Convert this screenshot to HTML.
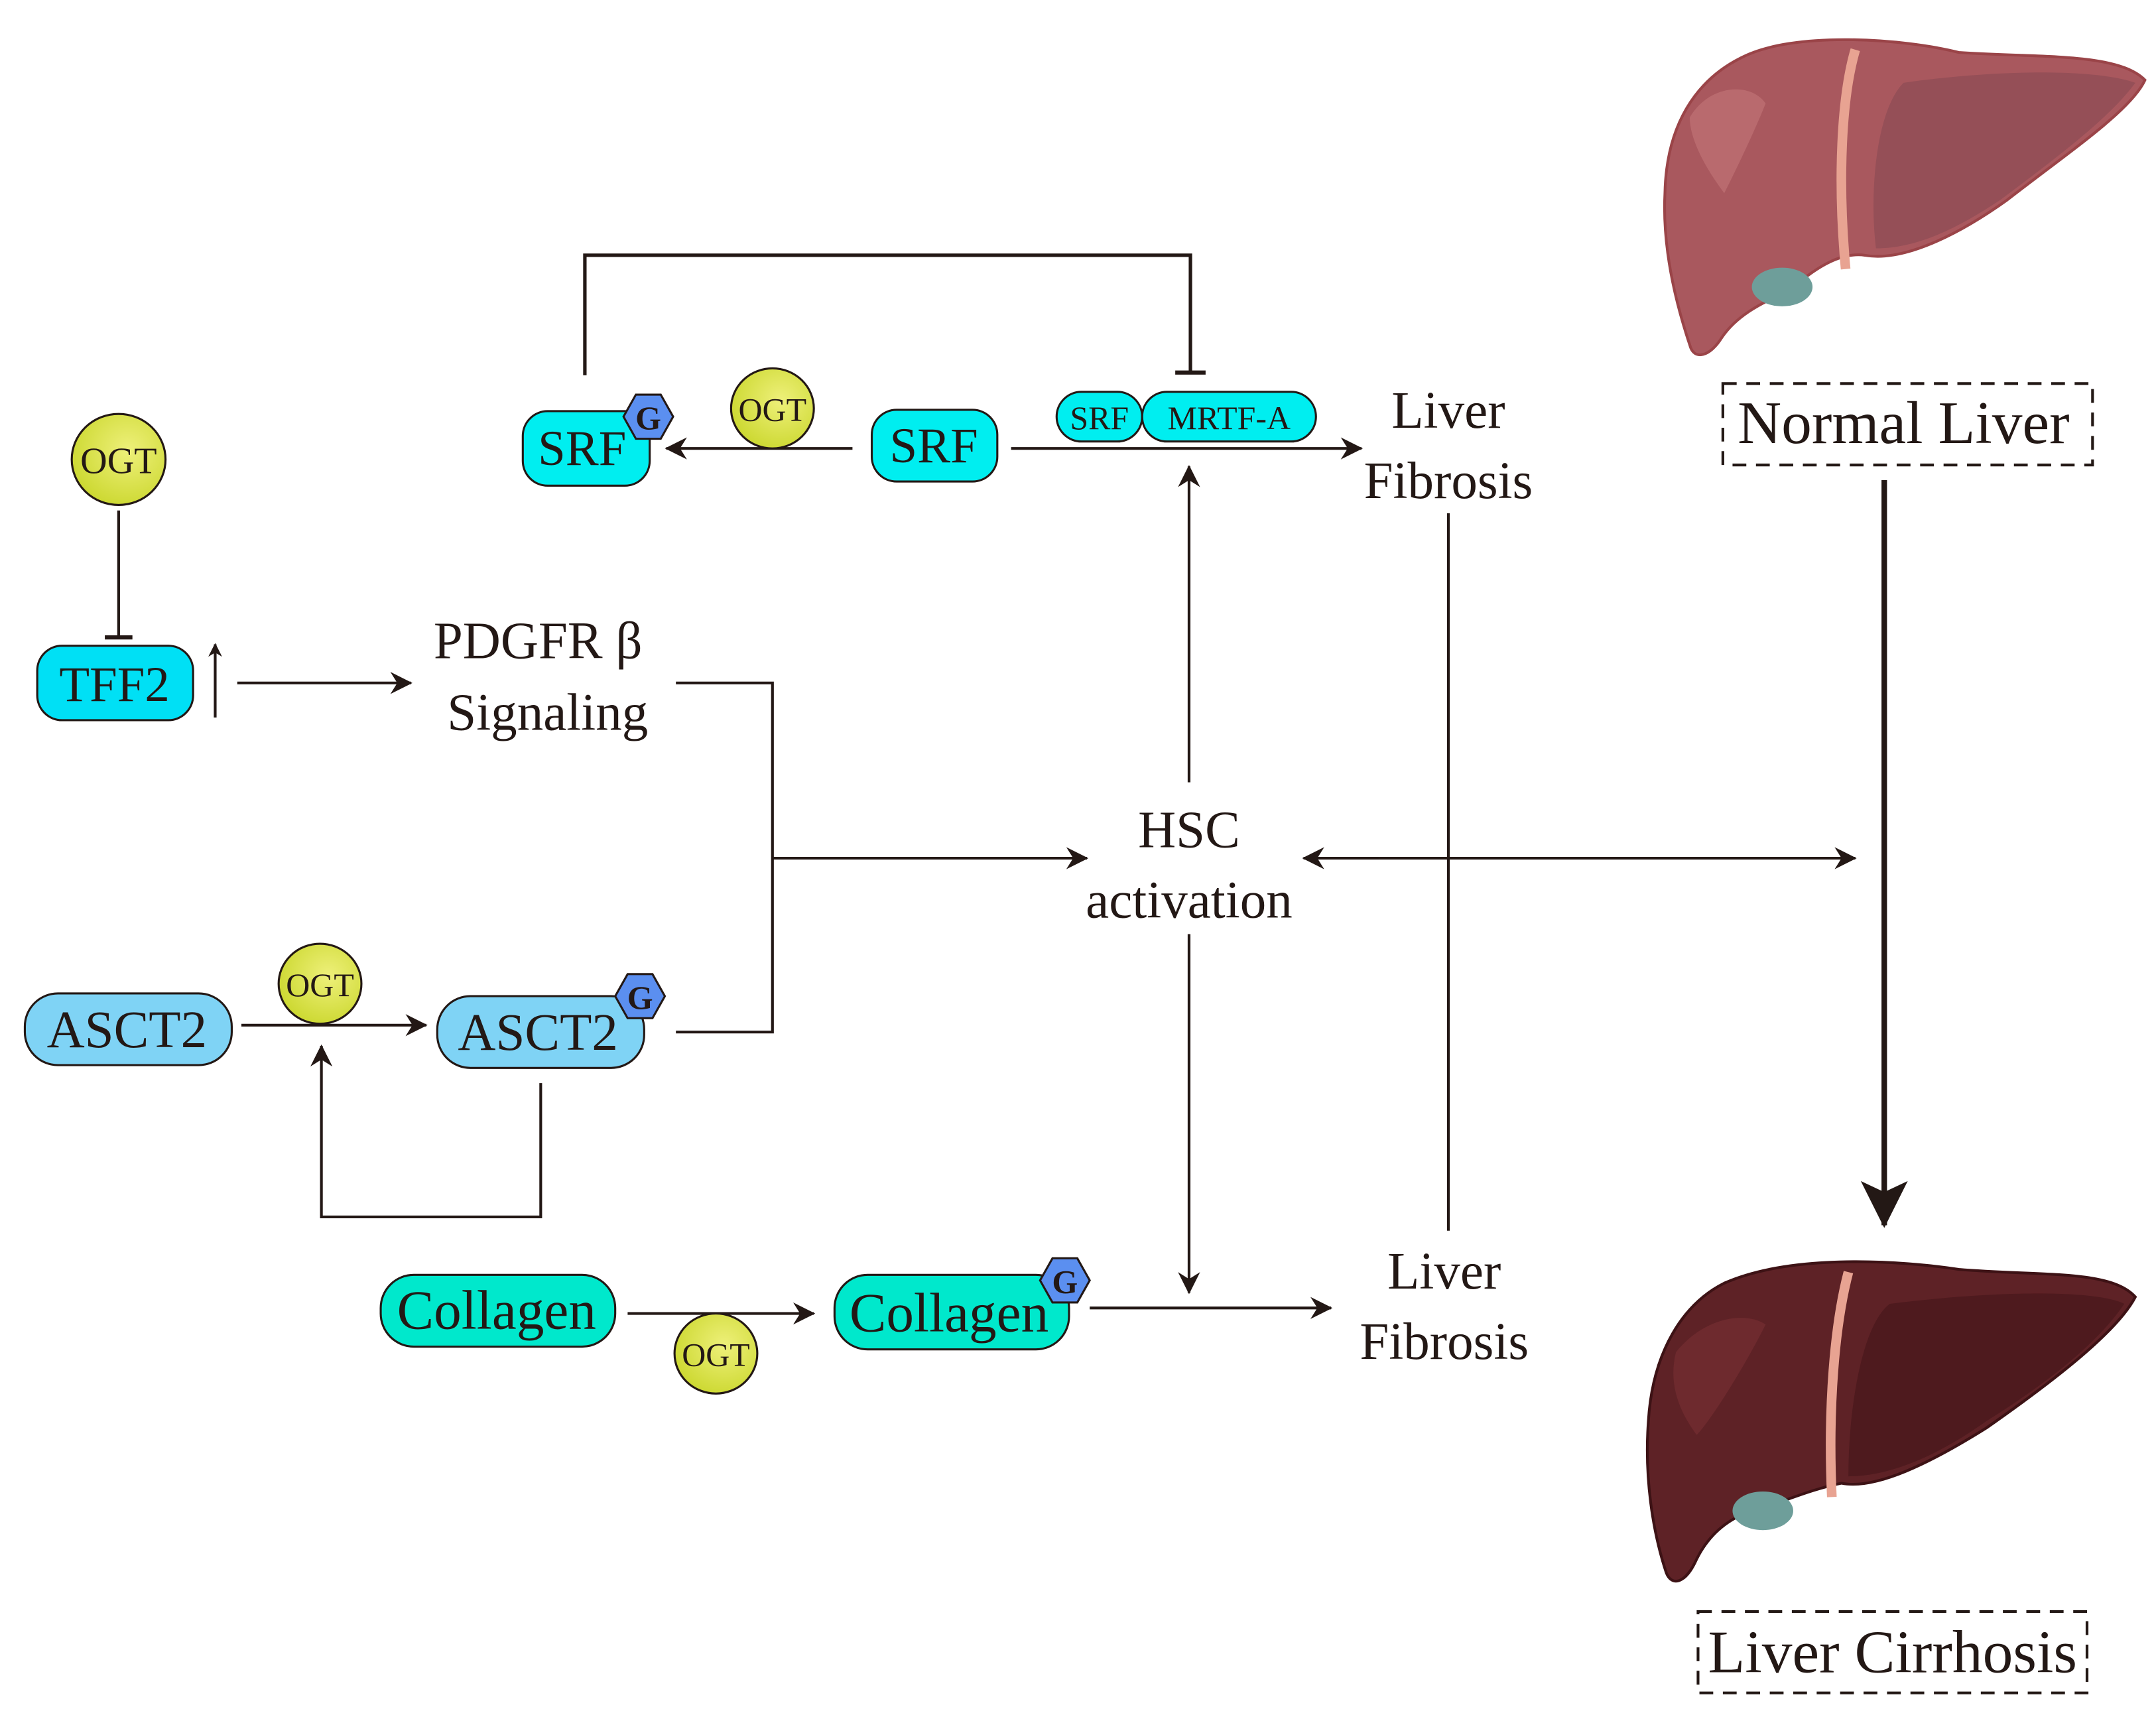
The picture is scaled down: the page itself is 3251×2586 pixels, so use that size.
<!DOCTYPE html>
<html><head><meta charset="utf-8"><style>
html,body{margin:0;padding:0;background:#fff;}
svg{display:block;}
text{font-family:"Liberation Serif",serif;fill:#231815;}
</style></head><body>
<svg width="3251" height="2586" viewBox="0 0 1563 1243" preserveAspectRatio="none" xmlns="http://www.w3.org/2000/svg">
<defs>
<marker id="ar" markerWidth="10" markerHeight="10" refX="9" refY="5" orient="auto" markerUnits="userSpaceOnUse" viewBox="0 0 10 10">
<path d="M0,0 L10,5 L0,10 L3,5 Z" fill="#231815"/></marker>
<marker id="ar2" markerWidth="16" markerHeight="16" refX="15" refY="8" orient="auto" markerUnits="userSpaceOnUse" viewBox="0 0 16 16">
<path d="M0,0 L16,8 L0,16 L5,8 Z" fill="#231815"/></marker>
<marker id="big" markerWidth="34" markerHeight="40" refX="32" refY="17" orient="auto" markerUnits="userSpaceOnUse" viewBox="0 0 34 34">
<path d="M0,0 L34,17 L0,34 L8,17 Z" fill="#231815"/></marker>
<radialGradient id="ogt" cx="0.6" cy="0.4" r="0.7"><stop offset="0" stop-color="#eef07a"/><stop offset="1" stop-color="#c9d62a"/></radialGradient>
</defs>
<g stroke="#231815" stroke-width="2" fill="none">
<line x1="86" y1="370" x2="86" y2="462"/>
<line x1="76" y1="462" x2="96" y2="462" stroke-width="3"/>
<line x1="156" y1="520" x2="156" y2="467" marker-end="url(#ar)"/>
<line x1="172" y1="495" x2="298" y2="495" marker-end="url(#ar2)"/>
<polyline points="490,495 560,495 560,748 490,748"/>
<line x1="560" y1="622" x2="788" y2="622" marker-end="url(#ar2)"/>
<line x1="862" y1="567" x2="862" y2="338" marker-end="url(#ar2)"/>
<line x1="862" y1="677" x2="862" y2="937" marker-end="url(#ar2)"/>
<line x1="1000" y1="622" x2="1345" y2="622" marker-end="url(#ar2)"/>
<line x1="1000" y1="622" x2="945" y2="622" marker-end="url(#ar2)"/>
<line x1="1050" y1="372" x2="1050" y2="892"/>
<line x1="618" y1="325" x2="483" y2="325" marker-end="url(#ar2)"/>
<line x1="733" y1="325" x2="987" y2="325" marker-end="url(#ar2)"/>
<polyline points="424,272 424,185 863,185 863,270" stroke-width="2.5"/>
<line x1="852" y1="270" x2="874" y2="270" stroke-width="3"/>
<line x1="175" y1="743" x2="309" y2="743" marker-end="url(#ar2)"/>
<polyline points="392,785 392,882 233,882 233,758" marker-end="url(#ar2)"/>
<line x1="455" y1="952" x2="590" y2="952" marker-end="url(#ar2)"/>
<line x1="790" y1="948" x2="965" y2="948" marker-end="url(#ar2)"/>
<line x1="1366" y1="348" x2="1366" y2="888" stroke-width="4" marker-end="url(#big)"/>
</g>
<g stroke="#231815" stroke-width="1.5">
<ellipse cx="86" cy="333" rx="34" ry="33" fill="url(#ogt)"/>
<rect x="27" y="468" width="113" height="54" rx="18" fill="#00e0f5"/>
<rect x="379" y="298" width="92" height="54" rx="18" fill="#00eef0"/>
<ellipse cx="560" cy="296" rx="30" ry="29" fill="url(#ogt)"/>
<rect x="632" y="297" width="91" height="52" rx="18" fill="#00eef0"/>
<rect x="766" y="284" width="62" height="36" rx="18" fill="#00eef0"/>
<rect x="828" y="284" width="126" height="36" rx="18" fill="#00eef0"/>
<rect x="18" y="720" width="150" height="52" rx="24" fill="#7fd3f5"/>
<ellipse cx="232" cy="713" rx="30" ry="29" fill="url(#ogt)"/>
<rect x="317" y="722" width="150" height="52" rx="24" fill="#7fd3f5"/>
<rect x="276" y="924" width="170" height="52" rx="24" fill="#00e8cc"/>
<ellipse cx="519" cy="981" rx="30" ry="29" fill="url(#ogt)"/>
<rect x="605" y="924" width="170" height="54" rx="24" fill="#00e8cc"/>
<polygon points="452,302 461,286 479,286 488,302 479,318 461,318" fill="#5b8ff0"/>
<polygon points="446,722 455,706 473,706 482,722 473,738 455,738" fill="#5b8ff0"/>
<polygon points="754,928 763,912 781,912 790,928 781,944 763,944" fill="#5b8ff0"/>
</g>
<g text-anchor="middle">
<text x="86" y="343" font-size="27">OGT</text>
<text x="83" y="508" font-size="36">TFF2</text>
<text x="422" y="337" font-size="36">SRF</text>
<text x="470" y="311" font-size="24" font-weight="bold">G</text>
<text x="560" y="305" font-size="24">OGT</text>
<text x="677" y="335" font-size="36">SRF</text>
<text x="797" y="311" font-size="24">SRF</text>
<text x="891" y="311" font-size="24">MRTF-A</text>
<text x="1050" y="310" font-size="38">Liver</text>
<text x="1050" y="361" font-size="38">Fibrosis</text>
<text x="390" y="477" font-size="38">PDGFR β</text>
<text x="397" y="529" font-size="38">Signaling</text>
<text x="862" y="614" font-size="38">HSC</text>
<text x="862" y="665" font-size="38">activation</text>
<text x="92" y="759" font-size="38">ASCT2</text>
<text x="232" y="722" font-size="24">OGT</text>
<text x="390" y="761" font-size="38">ASCT2</text>
<text x="464" y="731" font-size="24" font-weight="bold">G</text>
<text x="360" y="963" font-size="40">Collagen</text>
<text x="519" y="990" font-size="24">OGT</text>
<text x="688" y="965" font-size="40">Collagen</text>
<text x="772" y="937" font-size="24" font-weight="bold">G</text>
<text x="1047" y="934" font-size="38">Liver</text>
<text x="1047" y="985" font-size="38">Fibrosis</text>
<text x="1380" y="321" font-size="44">Normal Liver</text>
<text x="1372" y="1212" font-size="44">Liver Cirrhosis</text>
</g>
<rect x="1249" y="278" width="268" height="59" fill="none" stroke="#231815" stroke-width="2" stroke-dasharray="10,7"/>
<rect x="1231" y="1168" width="282" height="59" fill="none" stroke="#231815" stroke-width="2" stroke-dasharray="10,7"/>
<g>
<path d="M1262,42 C1300,22 1380,28 1420,38 C1480,42 1535,38 1555,58 C1545,80 1500,110 1455,145 C1420,170 1380,190 1352,185 C1330,182 1310,200 1295,212 C1275,220 1258,230 1248,245 C1240,258 1228,262 1225,250 C1215,220 1205,180 1207,140 C1208,90 1230,58 1262,42 Z" fill="#a9585e" stroke="#9a4448" stroke-width="2"/>
<path d="M1380,60 C1450,50 1520,50 1548,60 C1530,85 1490,115 1450,145 C1420,165 1390,180 1360,180 C1355,140 1360,80 1380,60 Z" fill="#954f57"/>
<path d="M1225,85 C1240,60 1270,60 1280,75 C1270,100 1255,130 1250,140 C1235,120 1225,100 1225,85 Z" fill="#b96a6e"/>
<ellipse cx="1292" cy="208" rx="22" ry="14" fill="#6e9e9a"/>
<path d="M1345,36 C1335,70 1332,130 1338,195" stroke="#e8a392" stroke-width="7" fill="none"/>
</g>
<g>
<path d="M1250,930 C1300,908 1380,914 1420,920 C1480,925 1530,920 1548,940 C1535,965 1490,1000 1440,1035 C1400,1060 1360,1080 1335,1075 C1310,1080 1290,1090 1270,1095 C1255,1100 1240,1110 1230,1130 C1222,1148 1212,1150 1208,1140 C1198,1110 1192,1070 1195,1030 C1198,980 1220,945 1250,930 Z" fill="#5e2226" stroke="#3d1215" stroke-width="2"/>
<path d="M1370,945 C1450,935 1520,935 1540,945 C1520,975 1480,1005 1440,1030 C1405,1055 1370,1070 1340,1070 C1340,1020 1350,960 1370,945 Z" fill="#4e1a1e"/>
<path d="M1215,980 C1235,955 1265,950 1280,960 C1265,990 1240,1030 1230,1040 C1215,1020 1210,1000 1215,980 Z" fill="#6e2a2e"/>
<ellipse cx="1278" cy="1095" rx="22" ry="14" fill="#6e9e9a"/>
<path d="M1340,922 C1330,960 1325,1020 1328,1085" stroke="#e8a392" stroke-width="7" fill="none"/>
</g>
</svg>
</body></html>
